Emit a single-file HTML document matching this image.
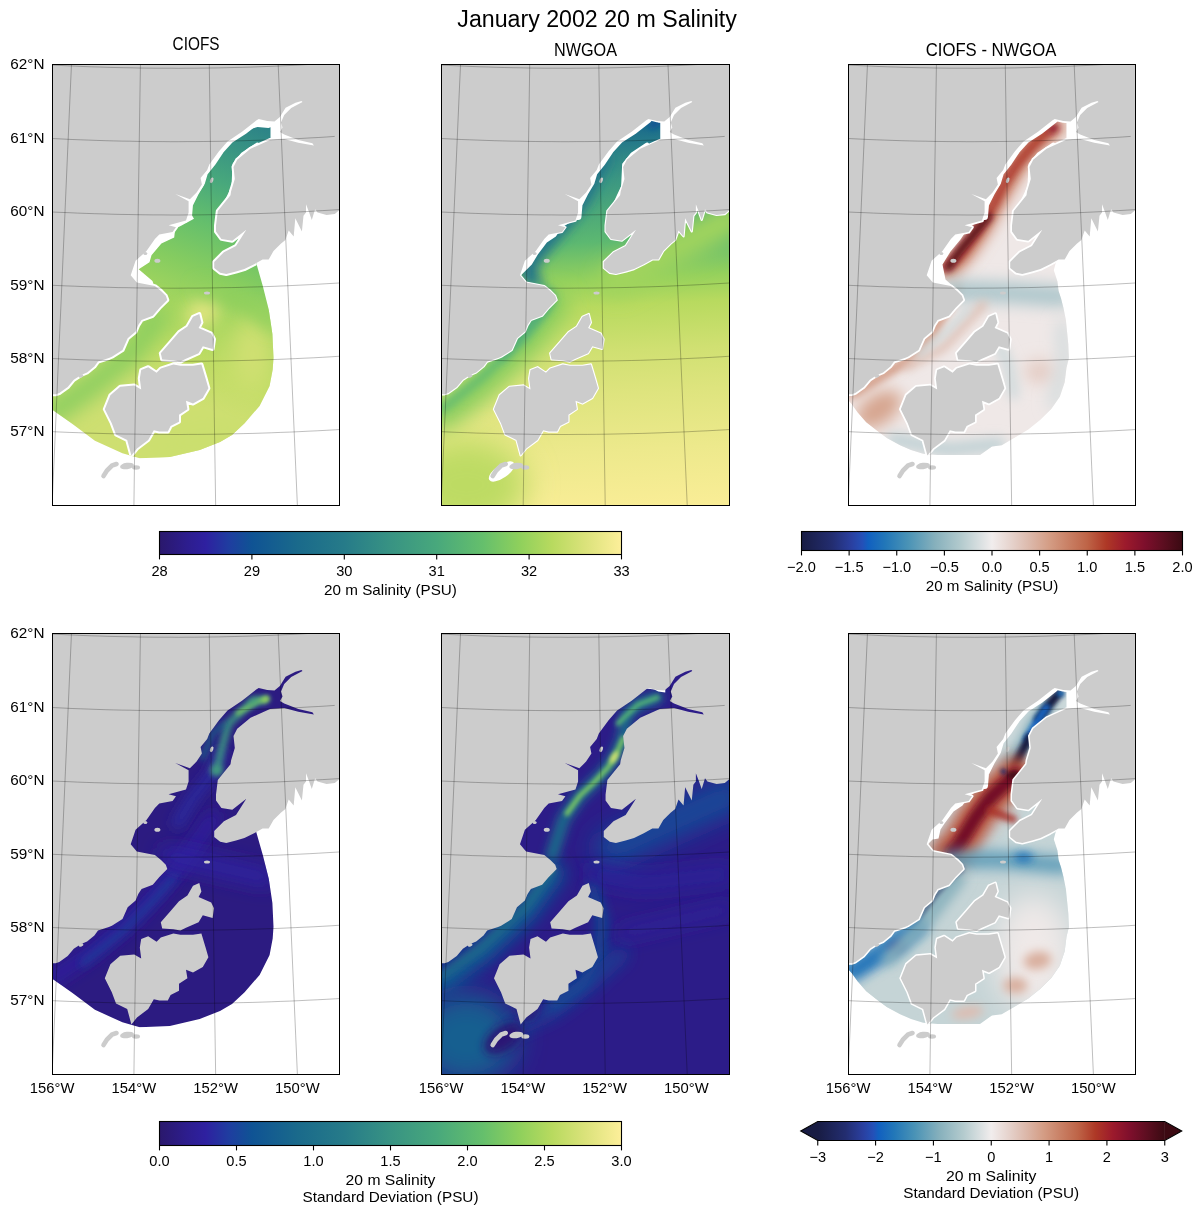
<!DOCTYPE html><html><head><meta charset="utf-8"><style>html,body{margin:0;padding:0;background:#fff}svg{display:block;will-change:transform}text{font-family:"Liberation Sans",sans-serif;fill:#000}</style></head><body><svg width="1202" height="1214" viewBox="0 0 1202 1214"><defs><clipPath id="pc"><rect width="287" height="441"/></clipPath><path id="landp" d="M0.0,0.0 L287.0,0.0 L287.0,145.5 L282.3,149.6 L274.1,150.5 L265.0,148.0 L262.6,144.7 L259.3,155.4 L256.0,146.3 L253.5,139.8 L253.5,148.0 L251.0,151.3 L249.4,166.9 L242.8,153.8 L241.2,171.9 L236.2,166.1 L232.9,175.5 L228.3,179.2 L221.0,186.5 L216.2,195.0 L210.1,195.0 L201.6,199.8 L191.9,204.6 L183.5,207.1 L173.8,209.5 L167.7,208.3 L161.7,203.4 L161.7,197.4 L171.4,187.7 L183.5,181.6 L193.8,165.3 L179.8,176.2 L168.9,174.4 L163.5,167.1 L163.5,161.0 L165.3,146.5 L178.0,130.8 L178.6,126.7 L182.3,114.5 L181.0,102.4 L184.7,95.2 L198.0,84.3 L217.5,75.5 L231.7,74.5 L245.8,78.3 L261.4,81.0 L259.9,78.8 L245.8,75.5 L231.7,70.0 L227.5,67.5 L230.0,63.0 L228.5,58.0 L231.7,50.5 L238.7,43.5 L250.0,37.5 L249.0,36.6 L243.0,38.3 L233.1,43.2 L227.4,52.5 L222.0,57.0 L214.7,56.6 L206.2,54.5 L204.1,55.8 L189.5,67.3 L175.0,77.0 L166.5,86.7 L156.8,100.0 L154.7,105.5 L148.1,113.5 L149.4,120.1 L144.1,128.1 L137.4,134.8 L122.8,129.5 L136.1,136.8 L136.1,148.1 L133.5,156.1 L116.1,160.7 L123.5,162.7 L120.1,167.4 L106.8,170.1 L102.4,174.4 L94.0,186.5 L83.1,196.2 L78.2,210.7 L84.3,218.0 L102.4,221.6 L108.5,226.4 L113.3,231.3 L114.8,235.5 L106.9,243.4 L100.3,251.3 L89.1,255.5 L85.8,260.6 L83.1,267.1 L75.2,273.7 L70.0,285.6 L59.4,292.2 L56.4,293.5 L45.5,297.1 L41.9,302.0 L34.6,308.0 L28.6,310.5 L21.3,315.3 L15.2,322.6 L6.8,328.6 L3.1,329.8 L0.0,329.8Z M88.7,305.5 L95.7,302.7 L104.1,308.3 L108.3,304.1 L120.9,299.9 L127.9,301.3 L140.5,301.3 L148.9,299.9 L153.1,313.9 L155.9,323.7 L150.3,333.5 L140.5,339.1 L133.5,336.3 L134.9,344.7 L126.5,350.3 L126.5,357.3 L118.1,361.5 L115.3,367.1 L106.9,367.1 L101.3,365.7 L95.7,375.5 L84.5,383.9 L78.9,390.9 L74.7,375.5 L63.5,369.9 L59.3,358.7 L52.3,344.7 L57.9,330.7 L67.7,322.3 L81.7,320.9 L88.7,325.1 L87.3,313.9Z M146.8,249.5 L148.9,257.9 L146.1,263.5 L158.7,269.1 L161.5,274.7 L160.1,284.5 L150.3,281.7 L146.1,288.7 L133.5,294.3 L127.9,297.1 L120.9,295.7 L109.7,295.0 L108.3,288.7 L118.1,277.5 L126.5,267.7 L134.9,262.1 L140.5,252.3Z"/><g id="landg"><use href="#landp" fill="#cccccc"/><ellipse cx="104.9" cy="196.2" rx="3" ry="2" transform="rotate(0 104.9 196.2)" fill="#cccccc"/><ellipse cx="92.8" cy="188.9" rx="2" ry="1.5" transform="rotate(0 92.8 188.9)" fill="#cccccc"/><ellipse cx="28.5" cy="311.5" rx="2.5" ry="1.5" transform="rotate(-20 28.5 311.5)" fill="#cccccc"/><ellipse cx="74.5" cy="401.5" rx="7" ry="3.2" transform="rotate(-8 74.5 401.5)" fill="#cccccc"/><ellipse cx="83.5" cy="403.0" rx="4" ry="2.2" transform="rotate(0 83.5 403.0)" fill="#cccccc"/><ellipse cx="159.2" cy="115.8" rx="1.6" ry="3" transform="rotate(20 159.2 115.8)" fill="#cccccc"/><ellipse cx="154.5" cy="228.5" rx="3" ry="1.5" transform="rotate(0 154.5 228.5)" fill="#cccccc"/><path d="M51.0,411.5 L54.5,406.0 L59.5,401.0 L64.0,399.5" stroke="#cccccc" stroke-width="4.6" stroke-linecap="round" fill="none"/></g><linearGradient id="gh" x1="0" y1="0" x2="1" y2="0"><stop offset="0.0" stop-color="#2a186c"/><stop offset="0.06" stop-color="#2d1d8e"/><stop offset="0.1" stop-color="#2e20a0"/><stop offset="0.15" stop-color="#1f3da0"/><stop offset="0.2" stop-color="#0f5394"/><stop offset="0.3" stop-color="#1a6a8b"/><stop offset="0.4" stop-color="#267b89"/><stop offset="0.5" stop-color="#389383"/><stop offset="0.6" stop-color="#48a87c"/><stop offset="0.7" stop-color="#65bf6c"/><stop offset="0.78" stop-color="#8fd05c"/><stop offset="0.85" stop-color="#b8da5f"/><stop offset="0.92" stop-color="#dae27a"/><stop offset="1.0" stop-color="#fdef9a"/></linearGradient><linearGradient id="gb" x1="0" y1="0" x2="1" y2="0"><stop offset="0.0" stop-color="#181c43"/><stop offset="0.08" stop-color="#232d70"/><stop offset="0.13" stop-color="#2a3f9f"/><stop offset="0.16" stop-color="#2450b8"/><stop offset="0.175" stop-color="#1160c0"/><stop offset="0.22" stop-color="#2277b8"/><stop offset="0.28" stop-color="#4a93b6"/><stop offset="0.35" stop-color="#86b0bc"/><stop offset="0.42" stop-color="#b4cbce"/><stop offset="0.5" stop-color="#f1eded"/><stop offset="0.55" stop-color="#e6d3cd"/><stop offset="0.6" stop-color="#dcb8aa"/><stop offset="0.65" stop-color="#d49d85"/><stop offset="0.7" stop-color="#c98065"/><stop offset="0.75" stop-color="#be6447"/><stop offset="0.8" stop-color="#ae3826"/><stop offset="0.85" stop-color="#9c1a2c"/><stop offset="0.9" stop-color="#7e0f2c"/><stop offset="0.95" stop-color="#5c0e20"/><stop offset="1.0" stop-color="#3a0a12"/></linearGradient><filter id="b6" x="-50%" y="-50%" width="200%" height="200%"><feGaussianBlur stdDeviation="6"/></filter><filter id="b10" x="-50%" y="-50%" width="200%" height="200%"><feGaussianBlur stdDeviation="10"/></filter><filter id="b3" x="-50%" y="-50%" width="200%" height="200%"><feGaussianBlur stdDeviation="3"/></filter><filter id="f1" x="-150" y="-150" width="600" height="750" filterUnits="userSpaceOnUse"><feGaussianBlur stdDeviation="1"/></filter><filter id="f2" x="-150" y="-150" width="600" height="750" filterUnits="userSpaceOnUse"><feGaussianBlur stdDeviation="2"/></filter><filter id="f3" x="-150" y="-150" width="600" height="750" filterUnits="userSpaceOnUse"><feGaussianBlur stdDeviation="3"/></filter><filter id="f4" x="-150" y="-150" width="600" height="750" filterUnits="userSpaceOnUse"><feGaussianBlur stdDeviation="4"/></filter><filter id="f5" x="-150" y="-150" width="600" height="750" filterUnits="userSpaceOnUse"><feGaussianBlur stdDeviation="5"/></filter><filter id="f6" x="-150" y="-150" width="600" height="750" filterUnits="userSpaceOnUse"><feGaussianBlur stdDeviation="6"/></filter><filter id="f7" x="-150" y="-150" width="600" height="750" filterUnits="userSpaceOnUse"><feGaussianBlur stdDeviation="7"/></filter><filter id="f8" x="-150" y="-150" width="600" height="750" filterUnits="userSpaceOnUse"><feGaussianBlur stdDeviation="8"/></filter><filter id="f9" x="-150" y="-150" width="600" height="750" filterUnits="userSpaceOnUse"><feGaussianBlur stdDeviation="9"/></filter><filter id="f10" x="-150" y="-150" width="600" height="750" filterUnits="userSpaceOnUse"><feGaussianBlur stdDeviation="10"/></filter><filter id="f11" x="-150" y="-150" width="600" height="750" filterUnits="userSpaceOnUse"><feGaussianBlur stdDeviation="11"/></filter><filter id="f12" x="-150" y="-150" width="600" height="750" filterUnits="userSpaceOnUse"><feGaussianBlur stdDeviation="12"/></filter><filter id="f13" x="-150" y="-150" width="600" height="750" filterUnits="userSpaceOnUse"><feGaussianBlur stdDeviation="13"/></filter><filter id="f14" x="-150" y="-150" width="600" height="750" filterUnits="userSpaceOnUse"><feGaussianBlur stdDeviation="14"/></filter><filter id="f15" x="-150" y="-150" width="600" height="750" filterUnits="userSpaceOnUse"><feGaussianBlur stdDeviation="15"/></filter><filter id="f16" x="-150" y="-150" width="600" height="750" filterUnits="userSpaceOnUse"><feGaussianBlur stdDeviation="16"/></filter><filter id="f17" x="-150" y="-150" width="600" height="750" filterUnits="userSpaceOnUse"><feGaussianBlur stdDeviation="17"/></filter><filter id="f18" x="-150" y="-150" width="600" height="750" filterUnits="userSpaceOnUse"><feGaussianBlur stdDeviation="18"/></filter><filter id="f19" x="-150" y="-150" width="600" height="750" filterUnits="userSpaceOnUse"><feGaussianBlur stdDeviation="19"/></filter><filter id="f20" x="-150" y="-150" width="600" height="750" filterUnits="userSpaceOnUse"><feGaussianBlur stdDeviation="20"/></filter><filter id="f21" x="-150" y="-150" width="600" height="750" filterUnits="userSpaceOnUse"><feGaussianBlur stdDeviation="21"/></filter><filter id="f22" x="-150" y="-150" width="600" height="750" filterUnits="userSpaceOnUse"><feGaussianBlur stdDeviation="22"/></filter><filter id="f23" x="-150" y="-150" width="600" height="750" filterUnits="userSpaceOnUse"><feGaussianBlur stdDeviation="23"/></filter><filter id="f24" x="-150" y="-150" width="600" height="750" filterUnits="userSpaceOnUse"><feGaussianBlur stdDeviation="24"/></filter><filter id="f25" x="-150" y="-150" width="600" height="750" filterUnits="userSpaceOnUse"><feGaussianBlur stdDeviation="25"/></filter><filter id="f26" x="-150" y="-150" width="600" height="750" filterUnits="userSpaceOnUse"><feGaussianBlur stdDeviation="26"/></filter><filter id="f27" x="-150" y="-150" width="600" height="750" filterUnits="userSpaceOnUse"><feGaussianBlur stdDeviation="27"/></filter><filter id="f28" x="-150" y="-150" width="600" height="750" filterUnits="userSpaceOnUse"><feGaussianBlur stdDeviation="28"/></filter><filter id="f29" x="-150" y="-150" width="600" height="750" filterUnits="userSpaceOnUse"><feGaussianBlur stdDeviation="29"/></filter><filter id="f30" x="-150" y="-150" width="600" height="750" filterUnits="userSpaceOnUse"><feGaussianBlur stdDeviation="30"/></filter><clipPath id="d1"><path d="M203.1,196.3 L210.3,221.4 L216.3,245.4 L219.9,269.4 L221.0,293.3 L220.2,305.0 L217.1,321.4 L207.1,341.4 L192.1,358.8 L179.5,370.5 L167.5,377.4 L147.2,385.5 L117.3,392.5 L87.3,393.8 L69.9,388.8 L42.4,376.3 L20.0,359.5 L-0.5,345.0 L-3.0,320.0 L60.0,200.0 L200.0,30.0 L258.0,28.0 L272.0,88.0 L235.0,150.0 L212.0,180.0Z"/></clipPath><clipPath id="d3"><path d="M205.3,205.8 L208.9,216.7 L210.1,226.5 L212.5,233.7 L215.0,243.4 L217.4,255.5 L218.6,267.6 L219.8,279.7 L220.4,293.5 L218.0,303.2 L216.2,317.7 L211.3,332.3 L202.8,344.4 L191.9,355.3 L179.8,365.0 L167.7,372.2 L153.2,380.7 L143.5,381.9 L131.5,390.4 L89.1,390.4 L74.6,389.2 L62.5,385.5 L51.6,380.7 L38.3,373.4 L28.6,366.2 L17.7,357.7 L9.2,348.0 L3.1,339.5 L-0.5,335.5 L-3.0,320.0 L60.0,200.0 L200.0,30.0 L258.0,28.0 L272.0,88.0 L235.0,150.0 L212.0,180.0Z"/></clipPath><linearGradient id="g1" gradientUnits="userSpaceOnUse" x1="215" y1="58" x2="115" y2="330"><stop offset="0" stop-color="#2a8088"/><stop offset="0.12" stop-color="#389383"/><stop offset="0.25" stop-color="#48a87c"/><stop offset="0.4" stop-color="#65bf6c"/><stop offset="0.55" stop-color="#85cc60"/><stop offset="0.7" stop-color="#a6d65e"/><stop offset="0.85" stop-color="#bfdc64"/><stop offset="1" stop-color="#cedf71"/></linearGradient><linearGradient id="g2" gradientUnits="userSpaceOnUse" x1="205" y1="60" x2="225" y2="441"><stop offset="0" stop-color="#1a6a8b"/><stop offset="0.04" stop-color="#247889"/><stop offset="0.08" stop-color="#2f8786"/><stop offset="0.14" stop-color="#3b9782"/><stop offset="0.3" stop-color="#5cb871"/><stop offset="0.4" stop-color="#95d15c"/><stop offset="0.47" stop-color="#b8da5f"/><stop offset="0.59" stop-color="#d0e072"/><stop offset="0.7" stop-color="#dee47e"/><stop offset="0.85" stop-color="#ede98c"/><stop offset="1" stop-color="#f9ed96"/></linearGradient></defs><g transform="translate(52.5,64.5) scale(1.00000,1)"><g clip-path="url(#pc)"><rect width="287" height="441" fill="#fff"/><g clip-path="url(#d1)"><rect x="-20" y="-20" width="330" height="480" fill="url(#g1)"/><ellipse cx="150" cy="248" rx="18" ry="14" transform="rotate(-30 150 248)" fill="#dee47e" fill-opacity="1" filter="url(#f8)"/><ellipse cx="200" cy="290" rx="22" ry="38" transform="rotate(0 200 290)" fill="#d0e072" fill-opacity="1" filter="url(#f12)"/><ellipse cx="150" cy="375" rx="60" ry="20" transform="rotate(-10 150 375)" fill="#cbdf6e" fill-opacity="1" filter="url(#f12)"/><path d="M0.0,348.0 L40.0,320.0 L80.0,287.0 L105.0,252.0" stroke="#8ace5e" stroke-opacity="1" stroke-width="24" fill="none" stroke-linecap="round" stroke-linejoin="round" filter="url(#f10)"/><path d="M150.0,225.0 L190.0,235.0 L220.0,260.0" stroke="#8fd05c" stroke-opacity="1" stroke-width="12" fill="none" stroke-linecap="round" stroke-linejoin="round" filter="url(#f8)"/><path d="M138.5,149.3 L141.5,154.3 L128.6,161.2 L122.7,164.2 L121.7,173.0 L108.9,179.0 L99.0,190.8 L97.0,197.8 L86.2,204.7 L100.0,216.5 L102.0,222.5 L80.0,225.0 L70.0,200.0 L100.0,160.0 L130.0,140.0Z" fill="#ffffff" fill-opacity="1"/><path d="M223.0,50.0 L223.0,61.0 L216.0,63.5 L205.0,62.5 L196.0,65.0 L188.0,69.0 L182.0,62.0 L200.0,48.0Z" fill="#ffffff" fill-opacity="1"/><path d="M218.0,50.0 L232.0,35.0 L256.0,28.0 L272.0,88.0 L228.0,88.0 L218.0,78.0Z" fill="#ffffff" fill-opacity="1"/><path d="M206.0,55.0 L192.0,66.0 L178.0,75.0 L168.0,86.0 L160.0,98.0 L152.0,108.0 L149.0,118.0 L143.0,128.0 L137.0,140.0 L136.0,152.0" stroke="#ffffff" stroke-opacity="1" stroke-width="7" fill="none" stroke-linecap="round" stroke-linejoin="round"/><path d="M205.0,80.0 L190.0,90.0 L182.0,100.0 L181.0,122.0 L168.0,150.0" stroke="#ffffff" stroke-opacity="1" stroke-width="4" fill="none" stroke-linecap="round" stroke-linejoin="round"/><use href="#landp" fill="none" stroke="#fff" stroke-width="4" stroke-linejoin="round"/></g><use href="#landg"/><path d="M-56.8,364.1 L-47.6,364.7 L-38.5,365.2 L-29.3,365.7 L-20.1,366.2 L-10.9,366.7 L-1.7,367.1 L7.4,367.5 L16.6,367.9 L25.8,368.2 L35.0,368.6 L44.2,368.8 L53.4,369.1 L62.5,369.3 L71.7,369.5 L80.9,369.6 L90.1,369.8 L99.3,369.9 L108.5,369.9 L117.7,370.0 L126.9,370.0 L136.1,369.9 L145.2,369.9 L154.4,369.8 L163.6,369.7 L172.8,369.5 L182.0,369.3 L191.2,369.1 L200.4,368.9 L209.6,368.6 L218.7,368.3 L227.9,367.9 L237.1,367.6 L246.3,367.2 L255.5,366.7 L264.7,366.3 L273.8,365.8 L283.0,365.3 L292.2,364.7 L301.3,364.1 M-52.0,291.1 L-43.1,291.7 L-34.1,292.2 L-25.2,292.7 L-16.3,293.2 L-7.3,293.7 L1.6,294.1 L10.5,294.5 L19.5,294.8 L28.4,295.2 L37.3,295.5 L46.3,295.7 L55.2,296.0 L64.2,296.2 L73.1,296.4 L82.0,296.5 L91.0,296.6 L99.9,296.7 L108.9,296.8 L117.8,296.8 L126.8,296.8 L135.7,296.8 L144.6,296.7 L153.6,296.7 L162.5,296.5 L171.5,296.4 L180.4,296.2 L189.4,296.0 L198.3,295.8 L207.2,295.5 L216.2,295.2 L225.1,294.9 L234.1,294.5 L243.0,294.1 L251.9,293.7 L260.9,293.3 L269.8,292.8 L278.7,292.3 L287.6,291.7 L296.6,291.2 M-47.2,218.1 L-38.5,218.7 L-29.8,219.2 L-21.1,219.7 L-12.5,220.1 L-3.8,220.6 L4.9,221.0 L13.6,221.4 L22.3,221.7 L31.0,222.1 L39.7,222.3 L48.4,222.6 L57.1,222.8 L65.8,223.1 L74.5,223.2 L83.2,223.4 L91.9,223.5 L100.6,223.6 L109.3,223.6 L118.0,223.7 L126.6,223.7 L135.3,223.6 L144.0,223.6 L152.7,223.5 L161.4,223.4 L170.1,223.2 L178.8,223.1 L187.5,222.9 L196.2,222.6 L204.9,222.4 L213.6,222.1 L222.3,221.8 L231.0,221.4 L239.7,221.0 L248.4,220.6 L257.1,220.2 L265.8,219.7 L274.4,219.2 L283.1,218.7 L291.8,218.2 M-42.4,145.0 L-34.0,145.6 L-25.5,146.1 L-17.1,146.6 L-8.6,147.0 L-0.2,147.5 L8.2,147.9 L16.7,148.2 L25.1,148.6 L33.6,148.9 L42.0,149.2 L50.5,149.4 L58.9,149.7 L67.4,149.9 L75.8,150.0 L84.3,150.2 L92.7,150.3 L101.2,150.4 L109.6,150.4 L118.1,150.5 L126.5,150.5 L135.0,150.4 L143.4,150.4 L151.9,150.3 L160.3,150.2 L168.8,150.0 L177.2,149.9 L185.7,149.7 L194.1,149.4 L202.6,149.2 L211.0,148.9 L219.5,148.6 L227.9,148.3 L236.4,147.9 L244.8,147.5 L253.3,147.1 L261.7,146.6 L270.1,146.1 L278.6,145.6 L287.0,145.1 M-37.6,71.9 L-29.4,72.4 L-21.2,72.9 L-13.0,73.4 L-4.8,73.8 L3.4,74.2 L11.6,74.6 L19.8,75.0 L28.0,75.3 L36.2,75.6 L44.4,75.9 L52.6,76.2 L60.8,76.4 L69.0,76.6 L77.2,76.7 L85.4,76.9 L93.6,77.0 L101.8,77.1 L110.0,77.1 L118.2,77.2 L126.4,77.2 L134.6,77.1 L142.8,77.1 L151.0,77.0 L159.3,76.9 L167.5,76.8 L175.7,76.6 L183.9,76.4 L192.1,76.2 L200.3,75.9 L208.5,75.7 L216.7,75.4 L224.9,75.0 L233.1,74.7 L241.3,74.3 L249.5,73.9 L257.7,73.4 L265.9,73.0 L274.0,72.5 L282.2,71.9 M-32.8,-1.4 L-24.8,-0.8 L-16.9,-0.4 L-8.9,0.1 L-1.0,0.5 L7.0,0.9 L14.9,1.3 L22.9,1.6 L30.8,2.0 L38.8,2.3 L46.7,2.5 L54.7,2.8 L62.6,3.0 L70.6,3.2 L78.6,3.3 L86.5,3.5 L94.5,3.6 L102.4,3.7 L110.4,3.7 L118.4,3.7 L126.3,3.8 L134.3,3.7 L142.2,3.7 L150.2,3.6 L158.2,3.5 L166.1,3.4 L174.1,3.2 L182.0,3.0 L190.0,2.8 L197.9,2.6 L205.9,2.3 L213.9,2.0 L221.8,1.7 L229.8,1.3 L237.7,1.0 L245.7,0.6 L253.6,0.1 L261.6,-0.3 L269.5,-0.8 L277.4,-1.3 M-1.0,455.0 L1.3,402.2 L3.6,349.5 L5.9,296.7 L8.3,243.9 L10.6,191.1 L12.9,138.3 L15.2,85.4 L17.5,32.5 L19.9,-20.5 M81.2,457.4 L81.9,404.6 L82.7,351.8 L83.5,299.0 L84.3,246.2 L85.1,193.3 L85.8,140.4 L86.6,87.5 L87.4,34.5 L88.2,-18.5 M163.4,457.4 L162.6,404.6 L161.8,351.8 L161.1,299.0 L160.3,246.2 L159.6,193.3 L158.8,140.4 L158.0,87.5 L157.3,34.5 L156.5,-18.5 M245.5,455.0 L243.2,402.3 L240.9,349.5 L238.6,296.8 L236.3,244.0 L234.0,191.2 L231.7,138.3 L229.4,85.4 L227.1,32.5 L224.8,-20.5" fill="none" stroke="#000" stroke-opacity="0.34" stroke-width="0.75"/></g><rect x="0" y="0" width="287" height="441" fill="none" stroke="#000" stroke-width="1.000" transform="scale(1,1)"/></g><g transform="translate(441.5,64.5) scale(1.00348,1)"><g clip-path="url(#pc)"><rect width="287" height="441" fill="#fff"/><g><rect x="-20" y="-20" width="330" height="480" fill="url(#g2)"/><path d="M175.0,215.0 L220.0,190.0 L287.0,155.0" stroke="#a1d45d" stroke-opacity="1" stroke-width="34" fill="none" stroke-linecap="round" stroke-linejoin="round" filter="url(#f10)"/><path d="M0.0,352.0 L40.0,320.0 L85.0,277.0 L112.0,240.0" stroke="#8ace5e" stroke-opacity="1" stroke-width="30" fill="none" stroke-linecap="round" stroke-linejoin="round" filter="url(#f10)"/><path d="M0.0,345.0 L40.0,313.0 L85.0,270.0 L110.0,236.0" stroke="#5fba6f" stroke-opacity="1" stroke-width="8" fill="none" stroke-linecap="round" stroke-linejoin="round" filter="url(#f4)"/><path d="M160.0,95.0 L150.0,115.0 L140.0,135.0 L125.0,155.0 L110.0,172.0 L95.0,190.0 L85.0,205.0 L92.0,218.0" stroke="#20728a" stroke-opacity="1" stroke-width="16" fill="none" stroke-linecap="round" stroke-linejoin="round" filter="url(#f6)"/><path d="M95.0,222.0 L108.0,230.0 L100.0,245.0 L85.0,262.0 L60.0,290.0" stroke="#48a87c" stroke-opacity="1" stroke-width="10" fill="none" stroke-linecap="round" stroke-linejoin="round" filter="url(#f5)"/><ellipse cx="213" cy="59" rx="8" ry="4" transform="rotate(-30 213 59)" fill="#0f5394" fill-opacity="1" filter="url(#f3)"/><ellipse cx="25" cy="420" rx="60" ry="45" transform="rotate(0 25 420)" fill="#bddb63" fill-opacity="1" filter="url(#f15)"/><path d="M134.0,149.0 L128.0,158.0 L120.0,163.0 L114.0,172.0 L105.0,178.0 L96.0,190.0 L90.0,200.0 L84.0,206.0 L78.0,212.0 L90.0,222.0 L70.0,225.0 L70.0,200.0 L100.0,160.0 L130.0,140.0Z" fill="#ffffff" fill-opacity="1"/><path d="M223.0,50.0 L223.0,59.0 L216.0,58.0 L212.0,56.0 L204.0,55.0 L200.0,48.0Z" fill="#ffffff" fill-opacity="1"/><path d="M218.0,50.0 L232.0,35.0 L256.0,28.0 L272.0,88.0 L228.0,88.0 L218.0,78.0Z" fill="#ffffff" fill-opacity="1"/><ellipse cx="60" cy="407" rx="15" ry="6.5" transform="rotate(-35 60 407)" fill="#ffffff" fill-opacity="1"/><path d="M206.0,55.0 L192.0,66.0 L178.0,75.0 L168.0,86.0 L160.0,98.0 L152.0,108.0 L149.0,118.0 L143.0,128.0 L137.0,140.0 L136.0,152.0" stroke="#ffffff" stroke-opacity="1" stroke-width="7" fill="none" stroke-linecap="round" stroke-linejoin="round"/><path d="M205.0,80.0 L190.0,90.0 L182.0,100.0 L181.0,122.0 L168.0,150.0" stroke="#ffffff" stroke-opacity="1" stroke-width="4" fill="none" stroke-linecap="round" stroke-linejoin="round"/><use href="#landp" fill="none" stroke="#fff" stroke-width="2.2" stroke-linejoin="round"/></g><use href="#landg"/><path d="M-56.8,364.1 L-47.6,364.7 L-38.5,365.2 L-29.3,365.7 L-20.1,366.2 L-10.9,366.7 L-1.7,367.1 L7.4,367.5 L16.6,367.9 L25.8,368.2 L35.0,368.6 L44.2,368.8 L53.4,369.1 L62.5,369.3 L71.7,369.5 L80.9,369.6 L90.1,369.8 L99.3,369.9 L108.5,369.9 L117.7,370.0 L126.9,370.0 L136.1,369.9 L145.2,369.9 L154.4,369.8 L163.6,369.7 L172.8,369.5 L182.0,369.3 L191.2,369.1 L200.4,368.9 L209.6,368.6 L218.7,368.3 L227.9,367.9 L237.1,367.6 L246.3,367.2 L255.5,366.7 L264.7,366.3 L273.8,365.8 L283.0,365.3 L292.2,364.7 L301.3,364.1 M-52.0,291.1 L-43.1,291.7 L-34.1,292.2 L-25.2,292.7 L-16.3,293.2 L-7.3,293.7 L1.6,294.1 L10.5,294.5 L19.5,294.8 L28.4,295.2 L37.3,295.5 L46.3,295.7 L55.2,296.0 L64.2,296.2 L73.1,296.4 L82.0,296.5 L91.0,296.6 L99.9,296.7 L108.9,296.8 L117.8,296.8 L126.8,296.8 L135.7,296.8 L144.6,296.7 L153.6,296.7 L162.5,296.5 L171.5,296.4 L180.4,296.2 L189.4,296.0 L198.3,295.8 L207.2,295.5 L216.2,295.2 L225.1,294.9 L234.1,294.5 L243.0,294.1 L251.9,293.7 L260.9,293.3 L269.8,292.8 L278.7,292.3 L287.6,291.7 L296.6,291.2 M-47.2,218.1 L-38.5,218.7 L-29.8,219.2 L-21.1,219.7 L-12.5,220.1 L-3.8,220.6 L4.9,221.0 L13.6,221.4 L22.3,221.7 L31.0,222.1 L39.7,222.3 L48.4,222.6 L57.1,222.8 L65.8,223.1 L74.5,223.2 L83.2,223.4 L91.9,223.5 L100.6,223.6 L109.3,223.6 L118.0,223.7 L126.6,223.7 L135.3,223.6 L144.0,223.6 L152.7,223.5 L161.4,223.4 L170.1,223.2 L178.8,223.1 L187.5,222.9 L196.2,222.6 L204.9,222.4 L213.6,222.1 L222.3,221.8 L231.0,221.4 L239.7,221.0 L248.4,220.6 L257.1,220.2 L265.8,219.7 L274.4,219.2 L283.1,218.7 L291.8,218.2 M-42.4,145.0 L-34.0,145.6 L-25.5,146.1 L-17.1,146.6 L-8.6,147.0 L-0.2,147.5 L8.2,147.9 L16.7,148.2 L25.1,148.6 L33.6,148.9 L42.0,149.2 L50.5,149.4 L58.9,149.7 L67.4,149.9 L75.8,150.0 L84.3,150.2 L92.7,150.3 L101.2,150.4 L109.6,150.4 L118.1,150.5 L126.5,150.5 L135.0,150.4 L143.4,150.4 L151.9,150.3 L160.3,150.2 L168.8,150.0 L177.2,149.9 L185.7,149.7 L194.1,149.4 L202.6,149.2 L211.0,148.9 L219.5,148.6 L227.9,148.3 L236.4,147.9 L244.8,147.5 L253.3,147.1 L261.7,146.6 L270.1,146.1 L278.6,145.6 L287.0,145.1 M-37.6,71.9 L-29.4,72.4 L-21.2,72.9 L-13.0,73.4 L-4.8,73.8 L3.4,74.2 L11.6,74.6 L19.8,75.0 L28.0,75.3 L36.2,75.6 L44.4,75.9 L52.6,76.2 L60.8,76.4 L69.0,76.6 L77.2,76.7 L85.4,76.9 L93.6,77.0 L101.8,77.1 L110.0,77.1 L118.2,77.2 L126.4,77.2 L134.6,77.1 L142.8,77.1 L151.0,77.0 L159.3,76.9 L167.5,76.8 L175.7,76.6 L183.9,76.4 L192.1,76.2 L200.3,75.9 L208.5,75.7 L216.7,75.4 L224.9,75.0 L233.1,74.7 L241.3,74.3 L249.5,73.9 L257.7,73.4 L265.9,73.0 L274.0,72.5 L282.2,71.9 M-32.8,-1.4 L-24.8,-0.8 L-16.9,-0.4 L-8.9,0.1 L-1.0,0.5 L7.0,0.9 L14.9,1.3 L22.9,1.6 L30.8,2.0 L38.8,2.3 L46.7,2.5 L54.7,2.8 L62.6,3.0 L70.6,3.2 L78.6,3.3 L86.5,3.5 L94.5,3.6 L102.4,3.7 L110.4,3.7 L118.4,3.7 L126.3,3.8 L134.3,3.7 L142.2,3.7 L150.2,3.6 L158.2,3.5 L166.1,3.4 L174.1,3.2 L182.0,3.0 L190.0,2.8 L197.9,2.6 L205.9,2.3 L213.9,2.0 L221.8,1.7 L229.8,1.3 L237.7,1.0 L245.7,0.6 L253.6,0.1 L261.6,-0.3 L269.5,-0.8 L277.4,-1.3 M-1.0,455.0 L1.3,402.2 L3.6,349.5 L5.9,296.7 L8.3,243.9 L10.6,191.1 L12.9,138.3 L15.2,85.4 L17.5,32.5 L19.9,-20.5 M81.2,457.4 L81.9,404.6 L82.7,351.8 L83.5,299.0 L84.3,246.2 L85.1,193.3 L85.8,140.4 L86.6,87.5 L87.4,34.5 L88.2,-18.5 M163.4,457.4 L162.6,404.6 L161.8,351.8 L161.1,299.0 L160.3,246.2 L159.6,193.3 L158.8,140.4 L158.0,87.5 L157.3,34.5 L156.5,-18.5 M245.5,455.0 L243.2,402.3 L240.9,349.5 L238.6,296.8 L236.3,244.0 L234.0,191.2 L231.7,138.3 L229.4,85.4 L227.1,32.5 L224.8,-20.5" fill="none" stroke="#000" stroke-opacity="0.34" stroke-width="0.75"/></g><rect x="0" y="0" width="287" height="441" fill="none" stroke="#000" stroke-width="0.997" transform="scale(1,1)"/></g><g transform="translate(848.5,64.5) scale(1.00000,1)"><g clip-path="url(#pc)"><rect width="287" height="441" fill="#fff"/><g clip-path="url(#d3)"><rect x="-20" y="-20" width="330" height="480" fill="#efe8e7"/><path d="M207.0,62.0 L190.0,75.0 L172.0,95.0 L160.0,115.0 L148.0,135.0 L135.0,160.0 L118.0,185.0 L100.0,205.0" stroke="#cc876d" stroke-opacity="1" stroke-width="20" fill="none" stroke-linecap="round" stroke-linejoin="round" filter="url(#f7)"/><path d="M200.0,66.0 L185.0,80.0 L168.0,100.0 L155.0,120.0 L145.0,140.0 L130.0,165.0 L112.0,190.0 L95.0,205.0" stroke="#aa3128" stroke-opacity="1" stroke-width="9" fill="none" stroke-linecap="round" stroke-linejoin="round" filter="url(#f4)"/><path d="M140.0,152.0 L125.0,170.0 L110.0,188.0 L100.0,203.0" stroke="#530d1c" stroke-opacity="1" stroke-width="7" fill="none" stroke-linecap="round" stroke-linejoin="round" filter="url(#f3)"/><ellipse cx="205" cy="64" rx="6" ry="4" transform="rotate(-30 205 64)" fill="#8d142c" fill-opacity="1" filter="url(#f3)"/><path d="M109.0,225.0 L85.0,268.0 L57.0,297.0 L23.0,318.0 L4.0,330.0" stroke="#ce8e75" stroke-opacity="1" stroke-width="8" fill="none" stroke-linecap="round" stroke-linejoin="round" filter="url(#f4)"/><ellipse cx="30" cy="345" rx="26" ry="15" transform="rotate(-35 30 345)" fill="#d6a48e" fill-opacity="1" filter="url(#f8)"/><path d="M100.0,226.0 L155.0,228.0 L215.0,232.0" stroke="#aac5ca" stroke-opacity="1" stroke-width="20" fill="none" stroke-linecap="round" stroke-linejoin="round" filter="url(#f8)"/><path d="M135.0,240.0 L95.0,283.0 L59.0,302.0" stroke="#debfb3" stroke-opacity="1" stroke-width="8" fill="none" stroke-linecap="round" stroke-linejoin="round" filter="url(#f5)"/><path d="M120.0,245.0 L95.0,270.0 L70.0,290.0" stroke="#cbd8da" stroke-opacity="1" stroke-width="6" fill="none" stroke-linecap="round" stroke-linejoin="round" filter="url(#f4)"/><ellipse cx="191" cy="307" rx="15" ry="12" transform="rotate(0 191 307)" fill="#e4ccc4" fill-opacity="1" filter="url(#f8)"/><path d="M150.0,280.0 L160.0,300.0 L165.0,330.0" stroke="#cbd8da" stroke-opacity="1" stroke-width="10" fill="none" stroke-linecap="round" stroke-linejoin="round" filter="url(#f6)"/><path d="M214.0,260.0 L216.0,300.0 L205.0,340.0" stroke="#cbd8da" stroke-opacity="1" stroke-width="10" fill="none" stroke-linecap="round" stroke-linejoin="round" filter="url(#f8)"/><path d="M45.0,375.0 L100.0,385.0 L150.0,380.0" stroke="#c1d2d5" stroke-opacity="1" stroke-width="14" fill="none" stroke-linecap="round" stroke-linejoin="round" filter="url(#f6)"/><path d="M223.0,50.0 L223.0,59.0 L216.0,58.0 L212.0,56.0 L204.0,55.0 L200.0,48.0Z" fill="#ffffff" fill-opacity="1"/><path d="M218.0,50.0 L232.0,35.0 L256.0,28.0 L272.0,88.0 L228.0,88.0 L218.0,78.0Z" fill="#ffffff" fill-opacity="1"/><path d="M134.0,149.0 L128.0,158.0 L120.0,163.0 L112.0,175.0 L102.0,187.0 L94.0,200.0 L97.0,215.0 L106.0,223.0 L80.0,228.0 L70.0,200.0 L100.0,160.0 L130.0,140.0Z" fill="#ffffff" fill-opacity="1"/><path d="M206.0,55.0 L192.0,66.0 L178.0,75.0 L168.0,86.0 L160.0,98.0 L152.0,108.0 L149.0,118.0 L143.0,128.0 L137.0,140.0 L136.0,152.0" stroke="#ffffff" stroke-opacity="1" stroke-width="7" fill="none" stroke-linecap="round" stroke-linejoin="round"/><path d="M205.0,80.0 L190.0,90.0 L182.0,100.0 L181.0,122.0 L168.0,150.0" stroke="#ffffff" stroke-opacity="1" stroke-width="4" fill="none" stroke-linecap="round" stroke-linejoin="round"/><use href="#landp" fill="none" stroke="#fff" stroke-width="3.5" stroke-linejoin="round"/></g><use href="#landg"/><path d="M-56.8,364.1 L-47.6,364.7 L-38.5,365.2 L-29.3,365.7 L-20.1,366.2 L-10.9,366.7 L-1.7,367.1 L7.4,367.5 L16.6,367.9 L25.8,368.2 L35.0,368.6 L44.2,368.8 L53.4,369.1 L62.5,369.3 L71.7,369.5 L80.9,369.6 L90.1,369.8 L99.3,369.9 L108.5,369.9 L117.7,370.0 L126.9,370.0 L136.1,369.9 L145.2,369.9 L154.4,369.8 L163.6,369.7 L172.8,369.5 L182.0,369.3 L191.2,369.1 L200.4,368.9 L209.6,368.6 L218.7,368.3 L227.9,367.9 L237.1,367.6 L246.3,367.2 L255.5,366.7 L264.7,366.3 L273.8,365.8 L283.0,365.3 L292.2,364.7 L301.3,364.1 M-52.0,291.1 L-43.1,291.7 L-34.1,292.2 L-25.2,292.7 L-16.3,293.2 L-7.3,293.7 L1.6,294.1 L10.5,294.5 L19.5,294.8 L28.4,295.2 L37.3,295.5 L46.3,295.7 L55.2,296.0 L64.2,296.2 L73.1,296.4 L82.0,296.5 L91.0,296.6 L99.9,296.7 L108.9,296.8 L117.8,296.8 L126.8,296.8 L135.7,296.8 L144.6,296.7 L153.6,296.7 L162.5,296.5 L171.5,296.4 L180.4,296.2 L189.4,296.0 L198.3,295.8 L207.2,295.5 L216.2,295.2 L225.1,294.9 L234.1,294.5 L243.0,294.1 L251.9,293.7 L260.9,293.3 L269.8,292.8 L278.7,292.3 L287.6,291.7 L296.6,291.2 M-47.2,218.1 L-38.5,218.7 L-29.8,219.2 L-21.1,219.7 L-12.5,220.1 L-3.8,220.6 L4.9,221.0 L13.6,221.4 L22.3,221.7 L31.0,222.1 L39.7,222.3 L48.4,222.6 L57.1,222.8 L65.8,223.1 L74.5,223.2 L83.2,223.4 L91.9,223.5 L100.6,223.6 L109.3,223.6 L118.0,223.7 L126.6,223.7 L135.3,223.6 L144.0,223.6 L152.7,223.5 L161.4,223.4 L170.1,223.2 L178.8,223.1 L187.5,222.9 L196.2,222.6 L204.9,222.4 L213.6,222.1 L222.3,221.8 L231.0,221.4 L239.7,221.0 L248.4,220.6 L257.1,220.2 L265.8,219.7 L274.4,219.2 L283.1,218.7 L291.8,218.2 M-42.4,145.0 L-34.0,145.6 L-25.5,146.1 L-17.1,146.6 L-8.6,147.0 L-0.2,147.5 L8.2,147.9 L16.7,148.2 L25.1,148.6 L33.6,148.9 L42.0,149.2 L50.5,149.4 L58.9,149.7 L67.4,149.9 L75.8,150.0 L84.3,150.2 L92.7,150.3 L101.2,150.4 L109.6,150.4 L118.1,150.5 L126.5,150.5 L135.0,150.4 L143.4,150.4 L151.9,150.3 L160.3,150.2 L168.8,150.0 L177.2,149.9 L185.7,149.7 L194.1,149.4 L202.6,149.2 L211.0,148.9 L219.5,148.6 L227.9,148.3 L236.4,147.9 L244.8,147.5 L253.3,147.1 L261.7,146.6 L270.1,146.1 L278.6,145.6 L287.0,145.1 M-37.6,71.9 L-29.4,72.4 L-21.2,72.9 L-13.0,73.4 L-4.8,73.8 L3.4,74.2 L11.6,74.6 L19.8,75.0 L28.0,75.3 L36.2,75.6 L44.4,75.9 L52.6,76.2 L60.8,76.4 L69.0,76.6 L77.2,76.7 L85.4,76.9 L93.6,77.0 L101.8,77.1 L110.0,77.1 L118.2,77.2 L126.4,77.2 L134.6,77.1 L142.8,77.1 L151.0,77.0 L159.3,76.9 L167.5,76.8 L175.7,76.6 L183.9,76.4 L192.1,76.2 L200.3,75.9 L208.5,75.7 L216.7,75.4 L224.9,75.0 L233.1,74.7 L241.3,74.3 L249.5,73.9 L257.7,73.4 L265.9,73.0 L274.0,72.5 L282.2,71.9 M-32.8,-1.4 L-24.8,-0.8 L-16.9,-0.4 L-8.9,0.1 L-1.0,0.5 L7.0,0.9 L14.9,1.3 L22.9,1.6 L30.8,2.0 L38.8,2.3 L46.7,2.5 L54.7,2.8 L62.6,3.0 L70.6,3.2 L78.6,3.3 L86.5,3.5 L94.5,3.6 L102.4,3.7 L110.4,3.7 L118.4,3.7 L126.3,3.8 L134.3,3.7 L142.2,3.7 L150.2,3.6 L158.2,3.5 L166.1,3.4 L174.1,3.2 L182.0,3.0 L190.0,2.8 L197.9,2.6 L205.9,2.3 L213.9,2.0 L221.8,1.7 L229.8,1.3 L237.7,1.0 L245.7,0.6 L253.6,0.1 L261.6,-0.3 L269.5,-0.8 L277.4,-1.3 M-1.0,455.0 L1.3,402.2 L3.6,349.5 L5.9,296.7 L8.3,243.9 L10.6,191.1 L12.9,138.3 L15.2,85.4 L17.5,32.5 L19.9,-20.5 M81.2,457.4 L81.9,404.6 L82.7,351.8 L83.5,299.0 L84.3,246.2 L85.1,193.3 L85.8,140.4 L86.6,87.5 L87.4,34.5 L88.2,-18.5 M163.4,457.4 L162.6,404.6 L161.8,351.8 L161.1,299.0 L160.3,246.2 L159.6,193.3 L158.8,140.4 L158.0,87.5 L157.3,34.5 L156.5,-18.5 M245.5,455.0 L243.2,402.3 L240.9,349.5 L238.6,296.8 L236.3,244.0 L234.0,191.2 L231.7,138.3 L229.4,85.4 L227.1,32.5 L224.8,-20.5" fill="none" stroke="#000" stroke-opacity="0.34" stroke-width="0.75"/></g><rect x="0" y="0" width="287" height="441" fill="none" stroke="#000" stroke-width="1.000" transform="scale(1,1)"/></g><g transform="translate(52.5,633.5) scale(1.00000,1)"><g clip-path="url(#pc)"><rect width="287" height="441" fill="#fff"/><g clip-path="url(#d1)"><rect x="-20" y="-20" width="330" height="480" fill="#2c1b81"/><path d="M0.0,345.0 L40.0,318.0 L80.0,285.0 L112.0,250.0 L135.0,222.0 L160.0,185.0" stroke="#2e1f9c" stroke-opacity="1" stroke-width="14" fill="none" stroke-linecap="round" stroke-linejoin="round" filter="url(#f7)"/><path d="M30.0,330.0 L70.0,298.0 L100.0,268.0 L122.0,243.0" stroke="#1a449c" stroke-opacity="1" stroke-width="5" fill="none" stroke-linecap="round" stroke-linejoin="round" filter="url(#f4)"/><path d="M116.0,222.0 L160.0,232.0 L213.0,244.0" stroke="#2e20a0" stroke-opacity="1" stroke-width="18" fill="none" stroke-linecap="round" stroke-linejoin="round" filter="url(#f9)"/><path d="M125.0,190.0 L140.0,165.0 L160.0,140.0 L168.0,120.0" stroke="#292aa0" stroke-opacity="1" stroke-width="10" fill="none" stroke-linecap="round" stroke-linejoin="round" filter="url(#f6)"/><path d="M164.0,137.0 L170.0,112.0 L176.0,90.0 L200.0,68.0 L213.0,66.0" stroke="#3b9782" stroke-opacity="1" stroke-width="7" fill="none" stroke-linecap="round" stroke-linejoin="round" filter="url(#f3)"/><path d="M185.0,80.0 L205.0,68.0 L214.0,65.0" stroke="#77c665" stroke-opacity="1" stroke-width="4" fill="none" stroke-linecap="round" stroke-linejoin="round" filter="url(#f2)"/><path d="M150.0,125.0 L160.0,100.0 L172.0,90.0" stroke="#1e708a" stroke-opacity="1" stroke-width="4" fill="none" stroke-linecap="round" stroke-linejoin="round" filter="url(#f3)"/><ellipse cx="201" cy="68" rx="6" ry="3" transform="rotate(-30 201 68)" fill="#43a17e" fill-opacity="1" filter="url(#f3)"/><ellipse cx="213" cy="66" rx="4" ry="2.5" transform="rotate(-30 213 66)" fill="#9bd35d" fill-opacity="1" filter="url(#f2)"/><ellipse cx="164" cy="137" rx="6" ry="5" transform="rotate(0 164 137)" fill="#43a17e" fill-opacity="1" filter="url(#f3)"/></g><use href="#landg"/><path d="M-56.8,364.1 L-47.6,364.7 L-38.5,365.2 L-29.3,365.7 L-20.1,366.2 L-10.9,366.7 L-1.7,367.1 L7.4,367.5 L16.6,367.9 L25.8,368.2 L35.0,368.6 L44.2,368.8 L53.4,369.1 L62.5,369.3 L71.7,369.5 L80.9,369.6 L90.1,369.8 L99.3,369.9 L108.5,369.9 L117.7,370.0 L126.9,370.0 L136.1,369.9 L145.2,369.9 L154.4,369.8 L163.6,369.7 L172.8,369.5 L182.0,369.3 L191.2,369.1 L200.4,368.9 L209.6,368.6 L218.7,368.3 L227.9,367.9 L237.1,367.6 L246.3,367.2 L255.5,366.7 L264.7,366.3 L273.8,365.8 L283.0,365.3 L292.2,364.7 L301.3,364.1 M-52.0,291.1 L-43.1,291.7 L-34.1,292.2 L-25.2,292.7 L-16.3,293.2 L-7.3,293.7 L1.6,294.1 L10.5,294.5 L19.5,294.8 L28.4,295.2 L37.3,295.5 L46.3,295.7 L55.2,296.0 L64.2,296.2 L73.1,296.4 L82.0,296.5 L91.0,296.6 L99.9,296.7 L108.9,296.8 L117.8,296.8 L126.8,296.8 L135.7,296.8 L144.6,296.7 L153.6,296.7 L162.5,296.5 L171.5,296.4 L180.4,296.2 L189.4,296.0 L198.3,295.8 L207.2,295.5 L216.2,295.2 L225.1,294.9 L234.1,294.5 L243.0,294.1 L251.9,293.7 L260.9,293.3 L269.8,292.8 L278.7,292.3 L287.6,291.7 L296.6,291.2 M-47.2,218.1 L-38.5,218.7 L-29.8,219.2 L-21.1,219.7 L-12.5,220.1 L-3.8,220.6 L4.9,221.0 L13.6,221.4 L22.3,221.7 L31.0,222.1 L39.7,222.3 L48.4,222.6 L57.1,222.8 L65.8,223.1 L74.5,223.2 L83.2,223.4 L91.9,223.5 L100.6,223.6 L109.3,223.6 L118.0,223.7 L126.6,223.7 L135.3,223.6 L144.0,223.6 L152.7,223.5 L161.4,223.4 L170.1,223.2 L178.8,223.1 L187.5,222.9 L196.2,222.6 L204.9,222.4 L213.6,222.1 L222.3,221.8 L231.0,221.4 L239.7,221.0 L248.4,220.6 L257.1,220.2 L265.8,219.7 L274.4,219.2 L283.1,218.7 L291.8,218.2 M-42.4,145.0 L-34.0,145.6 L-25.5,146.1 L-17.1,146.6 L-8.6,147.0 L-0.2,147.5 L8.2,147.9 L16.7,148.2 L25.1,148.6 L33.6,148.9 L42.0,149.2 L50.5,149.4 L58.9,149.7 L67.4,149.9 L75.8,150.0 L84.3,150.2 L92.7,150.3 L101.2,150.4 L109.6,150.4 L118.1,150.5 L126.5,150.5 L135.0,150.4 L143.4,150.4 L151.9,150.3 L160.3,150.2 L168.8,150.0 L177.2,149.9 L185.7,149.7 L194.1,149.4 L202.6,149.2 L211.0,148.9 L219.5,148.6 L227.9,148.3 L236.4,147.9 L244.8,147.5 L253.3,147.1 L261.7,146.6 L270.1,146.1 L278.6,145.6 L287.0,145.1 M-37.6,71.9 L-29.4,72.4 L-21.2,72.9 L-13.0,73.4 L-4.8,73.8 L3.4,74.2 L11.6,74.6 L19.8,75.0 L28.0,75.3 L36.2,75.6 L44.4,75.9 L52.6,76.2 L60.8,76.4 L69.0,76.6 L77.2,76.7 L85.4,76.9 L93.6,77.0 L101.8,77.1 L110.0,77.1 L118.2,77.2 L126.4,77.2 L134.6,77.1 L142.8,77.1 L151.0,77.0 L159.3,76.9 L167.5,76.8 L175.7,76.6 L183.9,76.4 L192.1,76.2 L200.3,75.9 L208.5,75.7 L216.7,75.4 L224.9,75.0 L233.1,74.7 L241.3,74.3 L249.5,73.9 L257.7,73.4 L265.9,73.0 L274.0,72.5 L282.2,71.9 M-32.8,-1.4 L-24.8,-0.8 L-16.9,-0.4 L-8.9,0.1 L-1.0,0.5 L7.0,0.9 L14.9,1.3 L22.9,1.6 L30.8,2.0 L38.8,2.3 L46.7,2.5 L54.7,2.8 L62.6,3.0 L70.6,3.2 L78.6,3.3 L86.5,3.5 L94.5,3.6 L102.4,3.7 L110.4,3.7 L118.4,3.7 L126.3,3.8 L134.3,3.7 L142.2,3.7 L150.2,3.6 L158.2,3.5 L166.1,3.4 L174.1,3.2 L182.0,3.0 L190.0,2.8 L197.9,2.6 L205.9,2.3 L213.9,2.0 L221.8,1.7 L229.8,1.3 L237.7,1.0 L245.7,0.6 L253.6,0.1 L261.6,-0.3 L269.5,-0.8 L277.4,-1.3 M-1.0,455.0 L1.3,402.2 L3.6,349.5 L5.9,296.7 L8.3,243.9 L10.6,191.1 L12.9,138.3 L15.2,85.4 L17.5,32.5 L19.9,-20.5 M81.2,457.4 L81.9,404.6 L82.7,351.8 L83.5,299.0 L84.3,246.2 L85.1,193.3 L85.8,140.4 L86.6,87.5 L87.4,34.5 L88.2,-18.5 M163.4,457.4 L162.6,404.6 L161.8,351.8 L161.1,299.0 L160.3,246.2 L159.6,193.3 L158.8,140.4 L158.0,87.5 L157.3,34.5 L156.5,-18.5 M245.5,455.0 L243.2,402.3 L240.9,349.5 L238.6,296.8 L236.3,244.0 L234.0,191.2 L231.7,138.3 L229.4,85.4 L227.1,32.5 L224.8,-20.5" fill="none" stroke="#000" stroke-opacity="0.34" stroke-width="0.75"/></g><rect x="0" y="0" width="287" height="441" fill="none" stroke="#000" stroke-width="1.000" transform="scale(1,1)"/></g><g transform="translate(441.5,633.5) scale(1.00348,1)"><g clip-path="url(#pc)"><rect width="287" height="441" fill="#fff"/><g><rect x="-20" y="-20" width="330" height="480" fill="#2c1c88"/><path d="M170.0,215.0 L220.0,192.0 L287.0,162.0" stroke="#144c98" stroke-opacity="1" stroke-width="34" fill="none" stroke-linecap="round" stroke-linejoin="round" filter="url(#f12)"/><path d="M150.0,240.0 L200.0,250.0 L287.0,240.0" stroke="#2c24a0" stroke-opacity="1" stroke-width="12" fill="none" stroke-linecap="round" stroke-linejoin="round" filter="url(#f10)"/><path d="M180.0,300.0 L287.0,275.0" stroke="#2e209d" stroke-opacity="1" stroke-width="10" fill="none" stroke-linecap="round" stroke-linejoin="round" filter="url(#f9)"/><path d="M0.0,350.0 L40.0,320.0 L85.0,278.0 L112.0,240.0" stroke="#115792" stroke-opacity="1" stroke-width="22" fill="none" stroke-linecap="round" stroke-linejoin="round" filter="url(#f8)"/><path d="M0.0,343.0 L40.0,314.0 L85.0,272.0 L110.0,236.0" stroke="#20728a" stroke-opacity="1" stroke-width="7" fill="none" stroke-linecap="round" stroke-linejoin="round" filter="url(#f4)"/><ellipse cx="107" cy="236" rx="4" ry="3" transform="rotate(-40 107 236)" fill="#9bd35d" fill-opacity="1" filter="url(#f2)"/><path d="M110.0,222.0 L122.0,185.0 L138.0,162.0 L151.0,150.0 L166.0,134.0 L174.0,121.0 L181.0,105.0 L184.0,82.0 L196.0,71.0 L215.0,64.0" stroke="#1c6d8b" stroke-opacity="1" stroke-width="12" fill="none" stroke-linecap="round" stroke-linejoin="round" filter="url(#f5)"/><path d="M181.0,105.0 L174.0,121.0 L166.0,134.0 L151.0,150.0 L138.0,162.0 L125.0,180.0" stroke="#77c665" stroke-opacity="1" stroke-width="5" fill="none" stroke-linecap="round" stroke-linejoin="round" filter="url(#f2)"/><path d="M215.0,64.0 L196.0,71.0 L184.0,82.0 L176.0,90.0" stroke="#52b077" stroke-opacity="1" stroke-width="5" fill="none" stroke-linecap="round" stroke-linejoin="round" filter="url(#f2)"/><ellipse cx="172" cy="124" rx="3" ry="7" transform="rotate(30 172 124)" fill="#d0e072" fill-opacity="1" filter="url(#f2)"/><ellipse cx="25" cy="405" rx="50" ry="45" transform="rotate(0 25 405)" fill="#145e90" fill-opacity="1" filter="url(#f14)"/><path d="M150.0,255.0 L160.0,285.0 L158.0,320.0 L140.0,350.0 L110.0,372.0" stroke="#0f5394" stroke-opacity="1" stroke-width="9" fill="none" stroke-linecap="round" stroke-linejoin="round" filter="url(#f6)"/><path d="M70.0,395.0 L110.0,378.0 L145.0,352.0 L180.0,320.0" stroke="#144c98" stroke-opacity="1" stroke-width="10" fill="none" stroke-linecap="round" stroke-linejoin="round" filter="url(#f8)"/><ellipse cx="62" cy="405" rx="22" ry="12" transform="rotate(-35 62 405)" fill="#2b1974" fill-opacity="1" filter="url(#f5)"/><ellipse cx="85" cy="375" rx="10" ry="12" transform="rotate(0 85 375)" fill="#2b1a77" fill-opacity="1" filter="url(#f4)"/><path d="M223.0,50.0 L223.0,59.0 L216.0,58.0 L212.0,56.0 L204.0,55.0 L200.0,48.0Z" fill="#ffffff" fill-opacity="1"/></g><use href="#landg"/><path d="M-56.8,364.1 L-47.6,364.7 L-38.5,365.2 L-29.3,365.7 L-20.1,366.2 L-10.9,366.7 L-1.7,367.1 L7.4,367.5 L16.6,367.9 L25.8,368.2 L35.0,368.6 L44.2,368.8 L53.4,369.1 L62.5,369.3 L71.7,369.5 L80.9,369.6 L90.1,369.8 L99.3,369.9 L108.5,369.9 L117.7,370.0 L126.9,370.0 L136.1,369.9 L145.2,369.9 L154.4,369.8 L163.6,369.7 L172.8,369.5 L182.0,369.3 L191.2,369.1 L200.4,368.9 L209.6,368.6 L218.7,368.3 L227.9,367.9 L237.1,367.6 L246.3,367.2 L255.5,366.7 L264.7,366.3 L273.8,365.8 L283.0,365.3 L292.2,364.7 L301.3,364.1 M-52.0,291.1 L-43.1,291.7 L-34.1,292.2 L-25.2,292.7 L-16.3,293.2 L-7.3,293.7 L1.6,294.1 L10.5,294.5 L19.5,294.8 L28.4,295.2 L37.3,295.5 L46.3,295.7 L55.2,296.0 L64.2,296.2 L73.1,296.4 L82.0,296.5 L91.0,296.6 L99.9,296.7 L108.9,296.8 L117.8,296.8 L126.8,296.8 L135.7,296.8 L144.6,296.7 L153.6,296.7 L162.5,296.5 L171.5,296.4 L180.4,296.2 L189.4,296.0 L198.3,295.8 L207.2,295.5 L216.2,295.2 L225.1,294.9 L234.1,294.5 L243.0,294.1 L251.9,293.7 L260.9,293.3 L269.8,292.8 L278.7,292.3 L287.6,291.7 L296.6,291.2 M-47.2,218.1 L-38.5,218.7 L-29.8,219.2 L-21.1,219.7 L-12.5,220.1 L-3.8,220.6 L4.9,221.0 L13.6,221.4 L22.3,221.7 L31.0,222.1 L39.7,222.3 L48.4,222.6 L57.1,222.8 L65.8,223.1 L74.5,223.2 L83.2,223.4 L91.9,223.5 L100.6,223.6 L109.3,223.6 L118.0,223.7 L126.6,223.7 L135.3,223.6 L144.0,223.6 L152.7,223.5 L161.4,223.4 L170.1,223.2 L178.8,223.1 L187.5,222.9 L196.2,222.6 L204.9,222.4 L213.6,222.1 L222.3,221.8 L231.0,221.4 L239.7,221.0 L248.4,220.6 L257.1,220.2 L265.8,219.7 L274.4,219.2 L283.1,218.7 L291.8,218.2 M-42.4,145.0 L-34.0,145.6 L-25.5,146.1 L-17.1,146.6 L-8.6,147.0 L-0.2,147.5 L8.2,147.9 L16.7,148.2 L25.1,148.6 L33.6,148.9 L42.0,149.2 L50.5,149.4 L58.9,149.7 L67.4,149.9 L75.8,150.0 L84.3,150.2 L92.7,150.3 L101.2,150.4 L109.6,150.4 L118.1,150.5 L126.5,150.5 L135.0,150.4 L143.4,150.4 L151.9,150.3 L160.3,150.2 L168.8,150.0 L177.2,149.9 L185.7,149.7 L194.1,149.4 L202.6,149.2 L211.0,148.9 L219.5,148.6 L227.9,148.3 L236.4,147.9 L244.8,147.5 L253.3,147.1 L261.7,146.6 L270.1,146.1 L278.6,145.6 L287.0,145.1 M-37.6,71.9 L-29.4,72.4 L-21.2,72.9 L-13.0,73.4 L-4.8,73.8 L3.4,74.2 L11.6,74.6 L19.8,75.0 L28.0,75.3 L36.2,75.6 L44.4,75.9 L52.6,76.2 L60.8,76.4 L69.0,76.6 L77.2,76.7 L85.4,76.9 L93.6,77.0 L101.8,77.1 L110.0,77.1 L118.2,77.2 L126.4,77.2 L134.6,77.1 L142.8,77.1 L151.0,77.0 L159.3,76.9 L167.5,76.8 L175.7,76.6 L183.9,76.4 L192.1,76.2 L200.3,75.9 L208.5,75.7 L216.7,75.4 L224.9,75.0 L233.1,74.7 L241.3,74.3 L249.5,73.9 L257.7,73.4 L265.9,73.0 L274.0,72.5 L282.2,71.9 M-32.8,-1.4 L-24.8,-0.8 L-16.9,-0.4 L-8.9,0.1 L-1.0,0.5 L7.0,0.9 L14.9,1.3 L22.9,1.6 L30.8,2.0 L38.8,2.3 L46.7,2.5 L54.7,2.8 L62.6,3.0 L70.6,3.2 L78.6,3.3 L86.5,3.5 L94.5,3.6 L102.4,3.7 L110.4,3.7 L118.4,3.7 L126.3,3.8 L134.3,3.7 L142.2,3.7 L150.2,3.6 L158.2,3.5 L166.1,3.4 L174.1,3.2 L182.0,3.0 L190.0,2.8 L197.9,2.6 L205.9,2.3 L213.9,2.0 L221.8,1.7 L229.8,1.3 L237.7,1.0 L245.7,0.6 L253.6,0.1 L261.6,-0.3 L269.5,-0.8 L277.4,-1.3 M-1.0,455.0 L1.3,402.2 L3.6,349.5 L5.9,296.7 L8.3,243.9 L10.6,191.1 L12.9,138.3 L15.2,85.4 L17.5,32.5 L19.9,-20.5 M81.2,457.4 L81.9,404.6 L82.7,351.8 L83.5,299.0 L84.3,246.2 L85.1,193.3 L85.8,140.4 L86.6,87.5 L87.4,34.5 L88.2,-18.5 M163.4,457.4 L162.6,404.6 L161.8,351.8 L161.1,299.0 L160.3,246.2 L159.6,193.3 L158.8,140.4 L158.0,87.5 L157.3,34.5 L156.5,-18.5 M245.5,455.0 L243.2,402.3 L240.9,349.5 L238.6,296.8 L236.3,244.0 L234.0,191.2 L231.7,138.3 L229.4,85.4 L227.1,32.5 L224.8,-20.5" fill="none" stroke="#000" stroke-opacity="0.34" stroke-width="0.75"/></g><rect x="0" y="0" width="287" height="441" fill="none" stroke="#000" stroke-width="0.997" transform="scale(1,1)"/></g><g transform="translate(848.5,633.5) scale(1.00000,1)"><g clip-path="url(#pc)"><rect width="287" height="441" fill="#fff"/><g clip-path="url(#d3)"><rect x="-20" y="-20" width="330" height="480" fill="#c5d4d6"/><path d="M0.0,0.0 L287.0,0.0 L287.0,120.0 L190.0,120.0 L150.0,200.0 L100.0,215.0 L0.0,250.0Z" fill="#cbd8da" fill-opacity="1" filter="url(#f10)"/><ellipse cx="185" cy="320" rx="40" ry="60" transform="rotate(0 185 320)" fill="#efe9e8" fill-opacity="1" filter="url(#f15)"/><path d="M200.0,70.0 L185.0,90.0 L175.0,110.0 L160.0,130.0" stroke="#91b6c0" stroke-opacity="1" stroke-width="14" fill="none" stroke-linecap="round" stroke-linejoin="round" filter="url(#f4)"/><path d="M210.0,60.0 L200.0,72.0 L190.0,86.0" stroke="#181c43" stroke-opacity="1" stroke-width="9" fill="none" stroke-linecap="round" stroke-linejoin="round" filter="url(#f2)"/><ellipse cx="212" cy="60" rx="4" ry="3" transform="rotate(0 212 60)" fill="#1a6dbc" fill-opacity="1" filter="url(#f2)"/><path d="M198.0,74.0 L186.0,92.0 L178.0,106.0" stroke="#1464bf" stroke-opacity="1" stroke-width="7" fill="none" stroke-linecap="round" stroke-linejoin="round" filter="url(#f2)"/><path d="M181.0,104.0 L173.0,119.0 L166.0,133.0" stroke="#181c43" stroke-opacity="1" stroke-width="9" fill="none" stroke-linecap="round" stroke-linejoin="round" filter="url(#f2)"/><path d="M167.0,141.0 L142.0,164.0 L127.0,184.0 L111.0,210.0 L100.0,220.0" stroke="#b9553c" stroke-opacity="1" stroke-width="36" fill="none" stroke-linecap="round" stroke-linejoin="round" filter="url(#f7)"/><path d="M167.0,141.0 L142.0,164.0 L127.0,184.0 L111.0,210.0 L104.0,218.0" stroke="#730f28" stroke-opacity="1" stroke-width="14" fill="none" stroke-linecap="round" stroke-linejoin="round" filter="url(#f3)"/><ellipse cx="165" cy="142" rx="6" ry="4" transform="rotate(0 165 142)" fill="#450b17" fill-opacity="1" filter="url(#f2)"/><ellipse cx="155" cy="138" rx="3" ry="3" transform="rotate(0 155 138)" fill="#212a68" fill-opacity="1" filter="url(#f2)"/><path d="M142.0,177.0 L165.0,186.0" stroke="#a82e28" stroke-opacity="1" stroke-width="7" fill="none" stroke-linecap="round" stroke-linejoin="round" filter="url(#f3)"/><path d="M100.0,226.0 L150.0,226.0 L215.0,232.0" stroke="#5b9bb8" stroke-opacity="1" stroke-width="16" fill="none" stroke-linecap="round" stroke-linejoin="round" filter="url(#f7)"/><ellipse cx="175" cy="224" rx="10" ry="5" transform="rotate(0 175 224)" fill="#2175b9" fill-opacity="1" filter="url(#f4)"/><path d="M112.0,236.0 L88.0,262.0 L63.0,296.0" stroke="#1d2356" stroke-opacity="1" stroke-width="5" fill="none" stroke-linecap="round" stroke-linejoin="round" filter="url(#f2)"/><path d="M68.0,292.0 L35.0,318.0 L4.0,338.0" stroke="#2175b9" stroke-opacity="1" stroke-width="20" fill="none" stroke-linecap="round" stroke-linejoin="round" filter="url(#f6)"/><ellipse cx="48" cy="313" rx="10" ry="5" transform="rotate(-30 48 313)" fill="#283a92" fill-opacity="1" filter="url(#f4)"/><path d="M110.0,245.0 L75.0,290.0 L40.0,325.0" stroke="#86b0bc" stroke-opacity="1" stroke-width="14" fill="none" stroke-linecap="round" stroke-linejoin="round" filter="url(#f6)"/><ellipse cx="38" cy="362" rx="25" ry="14" transform="rotate(-20 38 362)" fill="#c5d4d6" fill-opacity="1" filter="url(#f8)"/><ellipse cx="189" cy="327" rx="14" ry="9" transform="rotate(-10 189 327)" fill="#d9af9e" fill-opacity="1" filter="url(#f5)"/><ellipse cx="167" cy="352" rx="12" ry="8" transform="rotate(0 167 352)" fill="#d9af9e" fill-opacity="1" filter="url(#f5)"/><ellipse cx="119" cy="379" rx="16" ry="6" transform="rotate(-10 119 379)" fill="#debcb0" fill-opacity="1" filter="url(#f5)"/><path d="M223.0,50.0 L223.0,59.0 L216.0,58.0 L212.0,56.0 L204.0,55.0 L200.0,48.0Z" fill="#ffffff" fill-opacity="1"/><path d="M218.0,50.0 L232.0,35.0 L256.0,28.0 L272.0,88.0 L228.0,88.0 L218.0,78.0Z" fill="#ffffff" fill-opacity="1"/><path d="M134.0,149.0 L128.0,158.0 L120.0,163.0 L114.0,172.0 L105.0,178.0 L96.0,190.0 L92.0,196.0 L90.0,205.0 L84.0,206.0 L78.0,212.0 L90.0,222.0 L70.0,225.0 L70.0,200.0 L100.0,160.0 L130.0,140.0Z" fill="#ffffff" fill-opacity="1"/><path d="M206.0,55.0 L192.0,66.0 L178.0,75.0 L168.0,86.0 L160.0,98.0 L152.0,108.0 L149.0,118.0 L143.0,128.0 L137.0,140.0 L136.0,152.0" stroke="#ffffff" stroke-opacity="1" stroke-width="7" fill="none" stroke-linecap="round" stroke-linejoin="round"/><use href="#landp" fill="none" stroke="#fff" stroke-width="3" stroke-linejoin="round"/></g><use href="#landg"/><path d="M-56.8,364.1 L-47.6,364.7 L-38.5,365.2 L-29.3,365.7 L-20.1,366.2 L-10.9,366.7 L-1.7,367.1 L7.4,367.5 L16.6,367.9 L25.8,368.2 L35.0,368.6 L44.2,368.8 L53.4,369.1 L62.5,369.3 L71.7,369.5 L80.9,369.6 L90.1,369.8 L99.3,369.9 L108.5,369.9 L117.7,370.0 L126.9,370.0 L136.1,369.9 L145.2,369.9 L154.4,369.8 L163.6,369.7 L172.8,369.5 L182.0,369.3 L191.2,369.1 L200.4,368.9 L209.6,368.6 L218.7,368.3 L227.9,367.9 L237.1,367.6 L246.3,367.2 L255.5,366.7 L264.7,366.3 L273.8,365.8 L283.0,365.3 L292.2,364.7 L301.3,364.1 M-52.0,291.1 L-43.1,291.7 L-34.1,292.2 L-25.2,292.7 L-16.3,293.2 L-7.3,293.7 L1.6,294.1 L10.5,294.5 L19.5,294.8 L28.4,295.2 L37.3,295.5 L46.3,295.7 L55.2,296.0 L64.2,296.2 L73.1,296.4 L82.0,296.5 L91.0,296.6 L99.9,296.7 L108.9,296.8 L117.8,296.8 L126.8,296.8 L135.7,296.8 L144.6,296.7 L153.6,296.7 L162.5,296.5 L171.5,296.4 L180.4,296.2 L189.4,296.0 L198.3,295.8 L207.2,295.5 L216.2,295.2 L225.1,294.9 L234.1,294.5 L243.0,294.1 L251.9,293.7 L260.9,293.3 L269.8,292.8 L278.7,292.3 L287.6,291.7 L296.6,291.2 M-47.2,218.1 L-38.5,218.7 L-29.8,219.2 L-21.1,219.7 L-12.5,220.1 L-3.8,220.6 L4.9,221.0 L13.6,221.4 L22.3,221.7 L31.0,222.1 L39.7,222.3 L48.4,222.6 L57.1,222.8 L65.8,223.1 L74.5,223.2 L83.2,223.4 L91.9,223.5 L100.6,223.6 L109.3,223.6 L118.0,223.7 L126.6,223.7 L135.3,223.6 L144.0,223.6 L152.7,223.5 L161.4,223.4 L170.1,223.2 L178.8,223.1 L187.5,222.9 L196.2,222.6 L204.9,222.4 L213.6,222.1 L222.3,221.8 L231.0,221.4 L239.7,221.0 L248.4,220.6 L257.1,220.2 L265.8,219.7 L274.4,219.2 L283.1,218.7 L291.8,218.2 M-42.4,145.0 L-34.0,145.6 L-25.5,146.1 L-17.1,146.6 L-8.6,147.0 L-0.2,147.5 L8.2,147.9 L16.7,148.2 L25.1,148.6 L33.6,148.9 L42.0,149.2 L50.5,149.4 L58.9,149.7 L67.4,149.9 L75.8,150.0 L84.3,150.2 L92.7,150.3 L101.2,150.4 L109.6,150.4 L118.1,150.5 L126.5,150.5 L135.0,150.4 L143.4,150.4 L151.9,150.3 L160.3,150.2 L168.8,150.0 L177.2,149.9 L185.7,149.7 L194.1,149.4 L202.6,149.2 L211.0,148.9 L219.5,148.6 L227.9,148.3 L236.4,147.9 L244.8,147.5 L253.3,147.1 L261.7,146.6 L270.1,146.1 L278.6,145.6 L287.0,145.1 M-37.6,71.9 L-29.4,72.4 L-21.2,72.9 L-13.0,73.4 L-4.8,73.8 L3.4,74.2 L11.6,74.6 L19.8,75.0 L28.0,75.3 L36.2,75.6 L44.4,75.9 L52.6,76.2 L60.8,76.4 L69.0,76.6 L77.2,76.7 L85.4,76.9 L93.6,77.0 L101.8,77.1 L110.0,77.1 L118.2,77.2 L126.4,77.2 L134.6,77.1 L142.8,77.1 L151.0,77.0 L159.3,76.9 L167.5,76.8 L175.7,76.6 L183.9,76.4 L192.1,76.2 L200.3,75.9 L208.5,75.7 L216.7,75.4 L224.9,75.0 L233.1,74.7 L241.3,74.3 L249.5,73.9 L257.7,73.4 L265.9,73.0 L274.0,72.5 L282.2,71.9 M-32.8,-1.4 L-24.8,-0.8 L-16.9,-0.4 L-8.9,0.1 L-1.0,0.5 L7.0,0.9 L14.9,1.3 L22.9,1.6 L30.8,2.0 L38.8,2.3 L46.7,2.5 L54.7,2.8 L62.6,3.0 L70.6,3.2 L78.6,3.3 L86.5,3.5 L94.5,3.6 L102.4,3.7 L110.4,3.7 L118.4,3.7 L126.3,3.8 L134.3,3.7 L142.2,3.7 L150.2,3.6 L158.2,3.5 L166.1,3.4 L174.1,3.2 L182.0,3.0 L190.0,2.8 L197.9,2.6 L205.9,2.3 L213.9,2.0 L221.8,1.7 L229.8,1.3 L237.7,1.0 L245.7,0.6 L253.6,0.1 L261.6,-0.3 L269.5,-0.8 L277.4,-1.3 M-1.0,455.0 L1.3,402.2 L3.6,349.5 L5.9,296.7 L8.3,243.9 L10.6,191.1 L12.9,138.3 L15.2,85.4 L17.5,32.5 L19.9,-20.5 M81.2,457.4 L81.9,404.6 L82.7,351.8 L83.5,299.0 L84.3,246.2 L85.1,193.3 L85.8,140.4 L86.6,87.5 L87.4,34.5 L88.2,-18.5 M163.4,457.4 L162.6,404.6 L161.8,351.8 L161.1,299.0 L160.3,246.2 L159.6,193.3 L158.8,140.4 L158.0,87.5 L157.3,34.5 L156.5,-18.5 M245.5,455.0 L243.2,402.3 L240.9,349.5 L238.6,296.8 L236.3,244.0 L234.0,191.2 L231.7,138.3 L229.4,85.4 L227.1,32.5 L224.8,-20.5" fill="none" stroke="#000" stroke-opacity="0.34" stroke-width="0.75"/></g><rect x="0" y="0" width="287" height="441" fill="none" stroke="#000" stroke-width="1.000" transform="scale(1,1)"/></g><text x="457.3" y="26.6" font-size="23" textLength="279.6" lengthAdjust="spacingAndGlyphs">January 2002 20 m Salinity</text><text x="172.6" y="50.0" font-size="17.5" textLength="46.9" lengthAdjust="spacingAndGlyphs">CIOFS</text><text x="554.0" y="56.0" font-size="17.5" textLength="63" lengthAdjust="spacingAndGlyphs">NWGOA</text><text x="925.8" y="56.0" font-size="17.5" textLength="130.6" lengthAdjust="spacingAndGlyphs">CIOFS - NWGOA</text><text x="44.5" y="435.9" font-size="14.6" text-anchor="end" textLength="34.2" lengthAdjust="spacingAndGlyphs">57°N</text><text x="44.5" y="362.7" font-size="14.6" text-anchor="end" textLength="34.2" lengthAdjust="spacingAndGlyphs">58°N</text><text x="44.5" y="289.5" font-size="14.6" text-anchor="end" textLength="34.2" lengthAdjust="spacingAndGlyphs">59°N</text><text x="44.5" y="216.2" font-size="14.6" text-anchor="end" textLength="34.2" lengthAdjust="spacingAndGlyphs">60°N</text><text x="44.5" y="142.8" font-size="14.6" text-anchor="end" textLength="34.2" lengthAdjust="spacingAndGlyphs">61°N</text><text x="44.5" y="69.3" font-size="14.6" text-anchor="end" textLength="34.2" lengthAdjust="spacingAndGlyphs">62°N</text><text x="44.5" y="1004.9" font-size="14.6" text-anchor="end" textLength="34.2" lengthAdjust="spacingAndGlyphs">57°N</text><text x="44.5" y="931.7" font-size="14.6" text-anchor="end" textLength="34.2" lengthAdjust="spacingAndGlyphs">58°N</text><text x="44.5" y="858.5" font-size="14.6" text-anchor="end" textLength="34.2" lengthAdjust="spacingAndGlyphs">59°N</text><text x="44.5" y="785.2" font-size="14.6" text-anchor="end" textLength="34.2" lengthAdjust="spacingAndGlyphs">60°N</text><text x="44.5" y="711.8" font-size="14.6" text-anchor="end" textLength="34.2" lengthAdjust="spacingAndGlyphs">61°N</text><text x="44.5" y="638.3" font-size="14.6" text-anchor="end" textLength="34.2" lengthAdjust="spacingAndGlyphs">62°N</text><text x="52.1" y="1093.0" font-size="14.6" text-anchor="middle" textLength="44.6" lengthAdjust="spacingAndGlyphs">156°W</text><text x="133.9" y="1093.0" font-size="14.6" text-anchor="middle" textLength="44.6" lengthAdjust="spacingAndGlyphs">154°W</text><text x="215.6" y="1093.0" font-size="14.6" text-anchor="middle" textLength="44.6" lengthAdjust="spacingAndGlyphs">152°W</text><text x="297.4" y="1093.0" font-size="14.6" text-anchor="middle" textLength="44.6" lengthAdjust="spacingAndGlyphs">150°W</text><text x="441.1" y="1093.0" font-size="14.6" text-anchor="middle" textLength="44.6" lengthAdjust="spacingAndGlyphs">156°W</text><text x="522.9" y="1093.0" font-size="14.6" text-anchor="middle" textLength="44.6" lengthAdjust="spacingAndGlyphs">154°W</text><text x="604.6" y="1093.0" font-size="14.6" text-anchor="middle" textLength="44.6" lengthAdjust="spacingAndGlyphs">152°W</text><text x="686.4" y="1093.0" font-size="14.6" text-anchor="middle" textLength="44.6" lengthAdjust="spacingAndGlyphs">150°W</text><text x="848.1" y="1093.0" font-size="14.6" text-anchor="middle" textLength="44.6" lengthAdjust="spacingAndGlyphs">156°W</text><text x="929.9" y="1093.0" font-size="14.6" text-anchor="middle" textLength="44.6" lengthAdjust="spacingAndGlyphs">154°W</text><text x="1011.6" y="1093.0" font-size="14.6" text-anchor="middle" textLength="44.6" lengthAdjust="spacingAndGlyphs">152°W</text><text x="1093.4" y="1093.0" font-size="14.6" text-anchor="middle" textLength="44.6" lengthAdjust="spacingAndGlyphs">150°W</text><rect x="159.5" y="531.5" width="462.0" height="23.0" fill="url(#gh)" stroke="#000" stroke-width="1.1"/><line x1="159.50" y1="554.5" x2="159.50" y2="559.4" stroke="#000" stroke-width="1.1"/><text x="159.5" y="575.7" font-size="14.6" text-anchor="middle">28</text><line x1="251.90" y1="554.5" x2="251.90" y2="559.4" stroke="#000" stroke-width="1.1"/><text x="251.9" y="575.7" font-size="14.6" text-anchor="middle">29</text><line x1="344.30" y1="554.5" x2="344.30" y2="559.4" stroke="#000" stroke-width="1.1"/><text x="344.3" y="575.7" font-size="14.6" text-anchor="middle">30</text><line x1="436.70" y1="554.5" x2="436.70" y2="559.4" stroke="#000" stroke-width="1.1"/><text x="436.7" y="575.7" font-size="14.6" text-anchor="middle">31</text><line x1="529.10" y1="554.5" x2="529.10" y2="559.4" stroke="#000" stroke-width="1.1"/><text x="529.1" y="575.7" font-size="14.6" text-anchor="middle">32</text><line x1="621.50" y1="554.5" x2="621.50" y2="559.4" stroke="#000" stroke-width="1.1"/><text x="621.5" y="575.7" font-size="14.6" text-anchor="middle">33</text><text x="390.5" y="594.7" font-size="14.6" text-anchor="middle" textLength="132.8" lengthAdjust="spacingAndGlyphs">20 m Salinity (PSU)</text><rect x="801.5" y="531.5" width="381.0" height="19.0" fill="url(#gb)" stroke="#000" stroke-width="1.1"/><line x1="801.50" y1="550.5" x2="801.50" y2="555.4" stroke="#000" stroke-width="1.1"/><text x="801.5" y="571.6" font-size="14.6" text-anchor="middle">−2.0</text><line x1="849.12" y1="550.5" x2="849.12" y2="555.4" stroke="#000" stroke-width="1.1"/><text x="849.1" y="571.6" font-size="14.6" text-anchor="middle">−1.5</text><line x1="896.75" y1="550.5" x2="896.75" y2="555.4" stroke="#000" stroke-width="1.1"/><text x="896.8" y="571.6" font-size="14.6" text-anchor="middle">−1.0</text><line x1="944.38" y1="550.5" x2="944.38" y2="555.4" stroke="#000" stroke-width="1.1"/><text x="944.4" y="571.6" font-size="14.6" text-anchor="middle">−0.5</text><line x1="992.00" y1="550.5" x2="992.00" y2="555.4" stroke="#000" stroke-width="1.1"/><text x="992.0" y="571.6" font-size="14.6" text-anchor="middle">0.0</text><line x1="1039.62" y1="550.5" x2="1039.62" y2="555.4" stroke="#000" stroke-width="1.1"/><text x="1039.6" y="571.6" font-size="14.6" text-anchor="middle">0.5</text><line x1="1087.25" y1="550.5" x2="1087.25" y2="555.4" stroke="#000" stroke-width="1.1"/><text x="1087.2" y="571.6" font-size="14.6" text-anchor="middle">1.0</text><line x1="1134.88" y1="550.5" x2="1134.88" y2="555.4" stroke="#000" stroke-width="1.1"/><text x="1134.9" y="571.6" font-size="14.6" text-anchor="middle">1.5</text><line x1="1182.50" y1="550.5" x2="1182.50" y2="555.4" stroke="#000" stroke-width="1.1"/><text x="1182.5" y="571.6" font-size="14.6" text-anchor="middle">2.0</text><text x="992.0" y="590.9" font-size="14.6" text-anchor="middle" textLength="132.5" lengthAdjust="spacingAndGlyphs">20 m Salinity (PSU)</text><rect x="159.5" y="1121.5" width="462.0" height="24.0" fill="url(#gh)" stroke="#000" stroke-width="1.1"/><line x1="159.50" y1="1145.5" x2="159.50" y2="1150.4" stroke="#000" stroke-width="1.1"/><text x="159.5" y="1166.1" font-size="14.6" text-anchor="middle">0.0</text><line x1="236.50" y1="1145.5" x2="236.50" y2="1150.4" stroke="#000" stroke-width="1.1"/><text x="236.5" y="1166.1" font-size="14.6" text-anchor="middle">0.5</text><line x1="313.50" y1="1145.5" x2="313.50" y2="1150.4" stroke="#000" stroke-width="1.1"/><text x="313.5" y="1166.1" font-size="14.6" text-anchor="middle">1.0</text><line x1="390.50" y1="1145.5" x2="390.50" y2="1150.4" stroke="#000" stroke-width="1.1"/><text x="390.5" y="1166.1" font-size="14.6" text-anchor="middle">1.5</text><line x1="467.50" y1="1145.5" x2="467.50" y2="1150.4" stroke="#000" stroke-width="1.1"/><text x="467.5" y="1166.1" font-size="14.6" text-anchor="middle">2.0</text><line x1="544.50" y1="1145.5" x2="544.50" y2="1150.4" stroke="#000" stroke-width="1.1"/><text x="544.5" y="1166.1" font-size="14.6" text-anchor="middle">2.5</text><line x1="621.50" y1="1145.5" x2="621.50" y2="1150.4" stroke="#000" stroke-width="1.1"/><text x="621.5" y="1166.1" font-size="14.6" text-anchor="middle">3.0</text><text x="390.5" y="1185.3" font-size="14.6" text-anchor="middle" textLength="89.9" lengthAdjust="spacingAndGlyphs">20 m Salinity</text><text x="390.5" y="1201.9" font-size="14.6" text-anchor="middle" textLength="176.1" lengthAdjust="spacingAndGlyphs">Standard Deviation (PSU)</text><path d="M800.75,1131.0 L817.75,1121.5 L1164.75,1121.5 L1181.75,1131.0 L1164.75,1140.5 L817.75,1140.5 Z" fill="none"/><polygon points="800.75,1131.0 818.25,1121.5 818.25,1140.5" fill="#181c43"/><polygon points="1181.75,1131.0 1164.25,1121.5 1164.25,1140.5" fill="#3c0912"/><rect x="817.75" y="1121.5" width="347.0" height="19.0" fill="url(#gb)"/><path d="M800.75,1131.0 L817.75,1121.5 L1164.75,1121.5 L1181.75,1131.0 L1164.75,1140.5 L817.75,1140.5 Z" fill="none" stroke="#000" stroke-width="1.1" stroke-linejoin="miter"/><line x1="817.75" y1="1140.5" x2="817.75" y2="1145.4" stroke="#000" stroke-width="1.1"/><text x="817.8" y="1162.1" font-size="14.6" text-anchor="middle">−3</text><line x1="875.58" y1="1140.5" x2="875.58" y2="1145.4" stroke="#000" stroke-width="1.1"/><text x="875.6" y="1162.1" font-size="14.6" text-anchor="middle">−2</text><line x1="933.42" y1="1140.5" x2="933.42" y2="1145.4" stroke="#000" stroke-width="1.1"/><text x="933.4" y="1162.1" font-size="14.6" text-anchor="middle">−1</text><line x1="991.25" y1="1140.5" x2="991.25" y2="1145.4" stroke="#000" stroke-width="1.1"/><text x="991.2" y="1162.1" font-size="14.6" text-anchor="middle">0</text><line x1="1049.08" y1="1140.5" x2="1049.08" y2="1145.4" stroke="#000" stroke-width="1.1"/><text x="1049.1" y="1162.1" font-size="14.6" text-anchor="middle">1</text><line x1="1106.92" y1="1140.5" x2="1106.92" y2="1145.4" stroke="#000" stroke-width="1.1"/><text x="1106.9" y="1162.1" font-size="14.6" text-anchor="middle">2</text><line x1="1164.75" y1="1140.5" x2="1164.75" y2="1145.4" stroke="#000" stroke-width="1.1"/><text x="1164.8" y="1162.1" font-size="14.6" text-anchor="middle">3</text><text x="991.2" y="1181.1" font-size="14.6" text-anchor="middle" textLength="90.3" lengthAdjust="spacingAndGlyphs">20 m Salinity</text><text x="991.2" y="1197.9" font-size="14.6" text-anchor="middle" textLength="175.9" lengthAdjust="spacingAndGlyphs">Standard Deviation (PSU)</text></svg></body></html>
